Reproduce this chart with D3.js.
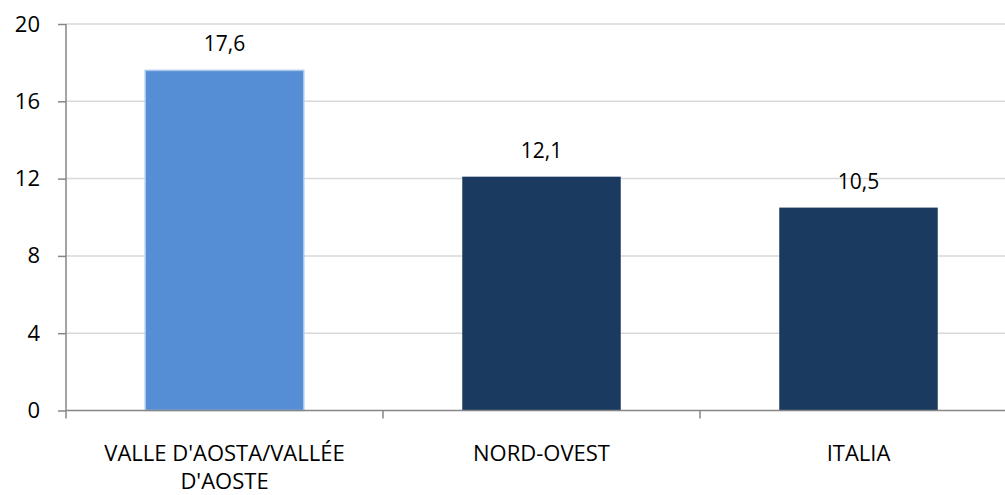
<!DOCTYPE html>
<html>
<head>
<meta charset="utf-8">
<script src="https://cdn.jsdelivr.net/npm/d3@7"></script>
<style>
  html, body { margin: 0; padding: 0; background: #fff; }
  svg { display: block; font-family: "Open Sans", "Liberation Sans", sans-serif; }
</style>
</head>
<body>
<svg id="chart" width="1005" height="495"></svg>
<script>
// Categories and values
const categories = ["VALLE D'AOSTA/VALLÉE D'AOSTE", "NORD-OVEST", "ITALIA"];
const categoryLines = [["VALLE D'AOSTA/VALLÉE", "D'AOSTE"], ["NORD-OVEST"], ["ITALIA"]];
const values = [17.6, 12.1, 10.5];
const valueLabels = ["17,6", "12,1", "10,5"];
const yTicks = [0, 4, 8, 12, 16, 20];

const svg = d3.select("#chart");
const plotLeft = 66, plotTop = 24, plotBottom = 410.5, step = 317;

const x = d3.scaleBand()
  .domain(categories)
  .range([plotLeft, plotLeft + step * categories.length])
  .paddingInner(0.5)
  .paddingOuter(0.25);

const y = d3.scaleLinear().domain([0, 20]).range([plotBottom, plotTop]);

// Horizontal gridlines
svg.append("g")
  .selectAll("line")
  .data(yTicks.filter(d => d > 0))
  .join("line")
  .attr("x1", plotLeft).attr("x2", 1005)
  .attr("y1", d => y(d)).attr("y2", d => y(d))
  .attr("stroke", "#d9d9d9")
  .attr("stroke-width", 1.5);

// Bars
svg.append("g")
  .selectAll("rect")
  .data(values)
  .join("rect")
  .attr("x", (d, i) => x(categories[i]))
  .attr("width", x.bandwidth())
  .attr("y", d => y(d))
  .attr("height", d => y(0) - y(d))
  .attr("fill", (d, i) => i === 0 ? "#558ed5" : "#1b3a5f")
  .attr("stroke", (d, i) => i === 0 ? "#a9c6ec" : "none")
  .attr("stroke-width", 1.5);

// Value labels
svg.append("g")
  .selectAll("text")
  .data(values)
  .join("text")
  .attr("x", (d, i) => x(categories[i]) + x.bandwidth() / 2)
  .attr("y", d => y(d) - 19)
  .attr("text-anchor", "middle")
  .attr("font-size", 21)
  .attr("fill", "#000")
  .text((d, i) => valueLabels[i]);

// Y axis
const yAxis = svg.append("g")
  .attr("transform", `translate(${plotLeft},0)`)
  .call(d3.axisLeft(y).tickValues(yTicks).tickSize(8).tickPadding(18).tickFormat(d3.format("d")));
yAxis.select(".domain").attr("stroke", "#868686").attr("stroke-width", 1.5)
  .attr("d", `M0,${plotTop}V${plotBottom + 8}`);
yAxis.selectAll(".tick line").attr("stroke", "#868686").attr("stroke-width", 1.5);
yAxis.selectAll(".tick text")
  .attr("font-size", 22)
  .attr("font-family", "'Open Sans', 'Liberation Sans', sans-serif")
  .attr("fill", "#000");

// X axis
const boundaries = d3.range(1, categories.length).map(i => plotLeft + step * i);
const xAxis = svg.append("g");
xAxis.append("line")
  .attr("x1", plotLeft).attr("x2", 1005)
  .attr("y1", plotBottom).attr("y2", plotBottom)
  .attr("stroke", "#868686").attr("stroke-width", 1.5);
xAxis.selectAll("line.tick")
  .data(boundaries)
  .join("line")
  .attr("class", "tick")
  .attr("x1", d => d).attr("x2", d => d)
  .attr("y1", plotBottom).attr("y2", plotBottom + 8)
  .attr("stroke", "#868686").attr("stroke-width", 1.5);

// Category labels
const catText = svg.append("g")
  .selectAll("text")
  .data(categories)
  .join("text")
  .attr("x", d => x(d) + x.bandwidth() / 2)
  .attr("y", 461)
  .attr("text-anchor", "middle")
  .attr("font-size", 22)
  .attr("fill", "#000");
catText.selectAll("tspan")
  .data((d, i) => categoryLines[i])
  .join("tspan")
  .attr("x", function () { return d3.select(this.parentNode).attr("x"); })
  .attr("dy", (d, j) => j === 0 ? 0 : 28)
  .text(d => d);
</script>
</body>
</html>
